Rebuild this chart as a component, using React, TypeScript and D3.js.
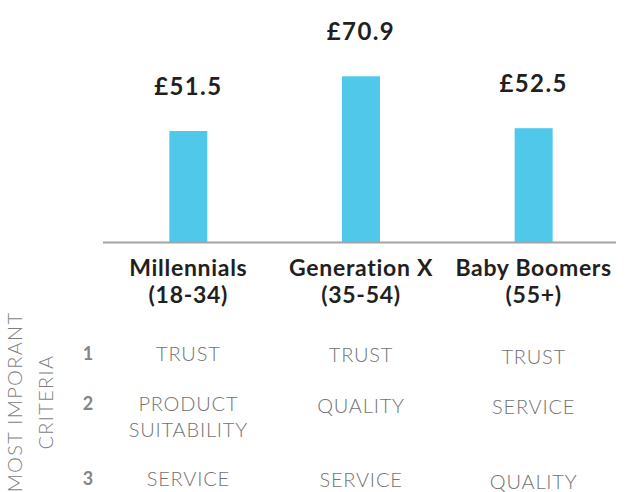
import React from "react";
import * as d3 from "d3";

const categories = ["Millennials", "Generation X", "Baby Boomers"];
const ageRanges = ["(18-34)", "(35-54)", "(55+)"];
const spend = [51.5, 70.9, 52.5];
const valueLabels = ["£51.5", "£70.9", "£52.5"];
const ranks = ["1", "2", "3"];
const criteriaMillennials = ["TRUST", "PRODUCT\nSUITABILITY", "SERVICE"];
const criteriaGenX = ["TRUST", "QUALITY", "SERVICE"];
const criteriaBoomers = ["TRUST", "SERVICE", "QUALITY"];
const sideTitle = ["MOST IMPORANT", "CRITERIA"];

const W = 627;
const H = 492;
const AXIS_Y = 242.5;
const BAR_W = 38;
const FONT = "Lato, 'Open Sans', sans-serif";
const DARK = "#231f20";
const GREY = "#727272";

export default function App() {
  const x = d3.scaleBand<string>().domain(categories).range([102, 620]).padding(0);
  const cx = (c: string) => (x(c) ?? 0) + x.bandwidth() / 2;
  const y = d3.scaleLinear().domain([12, 71]).range([AXIS_Y, 76]);

  const criteria = [criteriaMillennials, criteriaGenX, criteriaBoomers];
  const rowY = d3.scaleOrdinal<string, number>().domain(ranks).range([360.5, 411, 485.5]);
  const colDy = [0, 1.5, 3];

  return (
    <svg
      width={W}
      height={H}
      style={{ position: "absolute", left: 0, top: 0, background: "#fff" }}
    >
      {/* bars */}
      {categories.map((c, i) => (
        <rect
          key={c}
          x={cx(c) - BAR_W / 2}
          y={y(spend[i])}
          width={BAR_W}
          height={AXIS_Y - y(spend[i])}
          fill="#4fc8ea"
        />
      ))}
      {/* axis */}
      <line x1={103} x2={616} y1={AXIS_Y} y2={AXIS_Y} stroke="#a3a3a3" strokeWidth={2} />
      {/* value labels */}
      {categories.map((c, i) => (
        <text
          key={"v" + c}
          x={cx(c)}
          y={y(spend[i]) - 36}
          textAnchor="middle"
          fontFamily={FONT}
          fontWeight={700}
          fontSize={24}
          fill={DARK}
          letterSpacing={1.4}
        >
          {valueLabels[i]}
        </text>
      ))}
      {/* category labels */}
      {categories.map((c, i) => (
        <text
          key={"c" + c}
          textAnchor="middle"
          fontFamily={FONT}
          fontWeight={700}
          fontSize={23}
          fill={DARK}
          letterSpacing={0.7}
        >
          <tspan x={cx(c)} y={276}>{c}</tspan>
          <tspan x={cx(c)} y={303}>{ageRanges[i]}</tspan>
        </text>
      ))}
      {/* side title */}
      {sideTitle.map((t, i) => (
        <text
          key={t}
          transform={`translate(${i === 0 ? 21.7 : 53.3},402) rotate(-90)`}
          textAnchor="middle"
          fontFamily={FONT}
          fontWeight={300}
          fontSize={20}
          fill="#7e7e7e"
          letterSpacing={1.3}
        >
          {t}
        </text>
      ))}
      {/* rank numbers */}
      {ranks.map((r) => (
        <text
          key={"r" + r}
          x={88}
          y={rowY(r) - 1}
          textAnchor="middle"
          fontFamily={FONT}
          fontWeight={700}
          fontSize={18}
          fill="#858585"
        >
          {r}
        </text>
      ))}
      {/* criteria table */}
      {categories.map((c, ci) =>
        criteria[ci].map((txt, ri) => (
          <text
            key={c + ri}
            textAnchor="middle"
            fontFamily={FONT}
            fontWeight={300}
            fontSize={20}
            fill={GREY}
            letterSpacing={0.8}
          >
            {txt.split("\n").map((line, li) => (
              <tspan key={li} x={cx(c)} y={rowY(ranks[ri]) + colDy[ci] + li * 26}>
                {line}
              </tspan>
            ))}
          </text>
        ))
      )}
    </svg>
  );
}
